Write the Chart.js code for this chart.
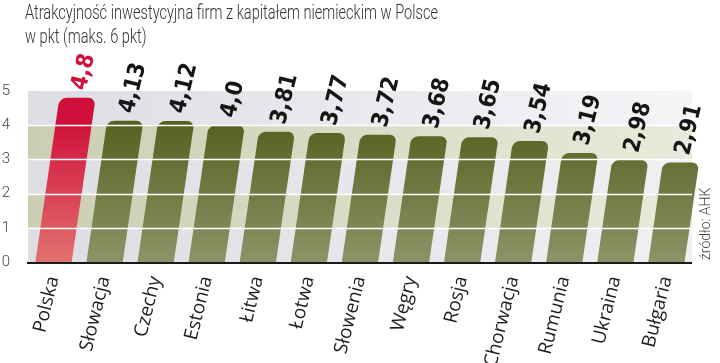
<!DOCTYPE html>
<html>
<head>
<meta charset="utf-8">
<script src="https://cdn.jsdelivr.net/npm/chart.js@4"></script>
<style>
  body { margin: 0; background: #fff; }
  #wrap { position: relative; width: 720px; height: 363px; }
  #title {
    position: absolute; left: 25px; top: 0px;
    font-family: Roboto, sans-serif; font-weight: 300; font-size: 20px;
    line-height: 24px; color: #333; white-space: nowrap;
    transform-origin: 0 0;
  }
  canvas { position: absolute; left: 0; top: 0; }
</style>
</head>
<body>
<div id="wrap">
  <canvas id="chart" width="720" height="363"></canvas>
  <div id="title"><span id="t1">Atrakcyjność inwestycyjna firm z kapitałem niemieckim w Polsce</span><br>w pkt (maks. 6 pkt)</div>
</div>
<script>
const countries = ["Polska", "Słowacja", "Czechy", "Estonia", "Łitwa", "Łotwa", "Słowenia",
  "Węgry", "Rosja", "Chorwacja", "Rumunia", "Ukraina", "Bułgaria"];
const scores = [4.8, 4.13, 4.12, 4.0, 3.81, 3.77, 3.72, 3.68, 3.65, 3.54, 3.19, 2.98, 2.91];
const scoreLabels = ["4,8", "4,13", "4,12", "4,0", "3,81", "3,77", "3,72", "3,68", "3,65", "3,54", "3,19", "2,98", "2,91"];
const yTicks = [0, 1, 2, 3, 4, 5];
const source = "źródło: AHK";

// szerokość tytułu jak w oryginale (krój zwężony)
const t1 = document.getElementById("t1");
const sx = 413 / t1.getBoundingClientRect().width;
document.getElementById("title").style.transform = "scaleX(" + sx + ")";

const SKEW = -0.146;

function barFill(c) {
  const chart = c.chart;
  const area = chart.chartArea;
  if (!area) return "#6b7440";
  const g = chart.ctx.createLinearGradient(0, area.top + 30, 0, area.bottom);
  if (c.dataIndex === 0) {
    g.addColorStop(0, "#d0103a");
    g.addColorStop(1, "#e2716e");
  } else {
    g.addColorStop(0, "#56601f");
    g.addColorStop(1, "#8c9467");
  }
  return g;
}

const bandsPlugin = {
  id: "bands",
  beforeDraw(chart) {
    const { ctx, chartArea: a, scales } = chart;
    const y = scales.y;
    for (let i = 0; i < yTicks.length - 1; i++) {
      const top = y.getPixelForValue(yTicks[i + 1]);
      const bot = y.getPixelForValue(yTicks[i]);
      const g = ctx.createLinearGradient(a.left, 0, a.right, 0);
      if (i % 2 === 0) {
        g.addColorStop(0, "#dcdee3");
        g.addColorStop(1, i === 4 ? "#f4f5f7" : "#eef0f2");
      } else {
        g.addColorStop(0, "#cbceb2");
        g.addColorStop(1, "#e9eadb");
      }
      ctx.fillStyle = g;
      ctx.fillRect(a.left, top, a.right - a.left, bot - top);
    }
  },
  beforeDatasetsDraw(chart) {
    const base = chart.scales.y.getPixelForValue(0);
    chart.ctx.save();
    chart.ctx.transform(1, 0, SKEW, 1, -SKEW * base, 0);
  },
  afterDatasetsDraw(chart) {
    const { ctx, chartArea: a, scales } = chart;
    ctx.restore();
    const y = scales.y;
    const base = y.getPixelForValue(0);
    // białe linie siatki na słupkach
    ctx.save();
    ctx.strokeStyle = "#ffffff";
    ctx.lineWidth = 1.5;
    [1, 2, 3, 4].forEach(v => {
      const py = Math.round(y.getPixelForValue(v)) + 0.5;
      ctx.beginPath();
      ctx.moveTo(a.left, py);
      ctx.lineTo(a.right, py);
      ctx.stroke();
    });
    // oś pozioma
    ctx.strokeStyle = "#1a1a1a";
    ctx.lineWidth = 2;
    ctx.beginPath();
    ctx.moveTo(a.left - 1, base + 1);
    ctx.lineTo(a.right, base + 1);
    ctx.stroke();
    // wartości nad słupkami
    const meta = chart.getDatasetMeta(0);
    ctx.font = "bold 23px 'DejaVu Sans Condensed', 'DejaVu Sans', sans-serif";
    ctx.textAlign = "left";
    ctx.textBaseline = "middle";
    meta.data.forEach((bar, i) => {
      const x = bar.x + SKEW * (bar.y - base);
      ctx.save();
      ctx.translate(x + 2, bar.y - 8);
      ctx.rotate(-76 * Math.PI / 180);
      ctx.fillStyle = i === 0 ? "#d0103a" : "#151515";
      ctx.fillText(scoreLabels[i], 0, 0);
      ctx.restore();
    });
    // źródło
    ctx.save();
    ctx.translate(a.right + 14, base - 2);
    ctx.rotate(-Math.PI / 2);
    ctx.font = "300 14px Roboto, sans-serif";
    ctx.fillStyle = "#444";
    ctx.textAlign = "left";
    ctx.textBaseline = "middle";
    ctx.fillText(source, 0, 0);
    ctx.restore();
    ctx.restore();
  }
};

new Chart(document.getElementById("chart"), {
  type: "bar",
  data: {
    labels: countries,
    datasets: [{
      data: scores,
      backgroundColor: barFill,
      borderRadius: 7,
      borderSkipped: "start",
      barPercentage: 0.71,
      categoryPercentage: 1,
    }],
  },
  options: {
    responsive: false,
    animation: false,
    devicePixelRatio: 1,
    layout: { padding: { top: 91, right: 28, left: 0, bottom: 0 } },
    plugins: { legend: { display: false }, tooltip: { enabled: false } },
    scales: {
      x: {
        grid: { display: false },
        border: { display: false },
        ticks: {
          autoSkip: false,
          minRotation: 76,
          maxRotation: 76,
          padding: 4,
          color: "#1e1e1e",
          font: { family: "'Open Sans', sans-serif", size: 19 },
        },
        afterFit(scale) { scale.height = 101; },
      },
      y: {
        min: 0,
        max: 5,
        grid: { display: false },
        border: { display: false },
        ticks: {
          stepSize: 1,
          padding: 10,
          color: "#444",
          font: { family: "Roboto, sans-serif", size: 15, weight: 300 },
        },
        afterFit(scale) { scale.width = 28; },
      },
    },
  },
  plugins: [bandsPlugin],
});
</script>
</body>
</html>
